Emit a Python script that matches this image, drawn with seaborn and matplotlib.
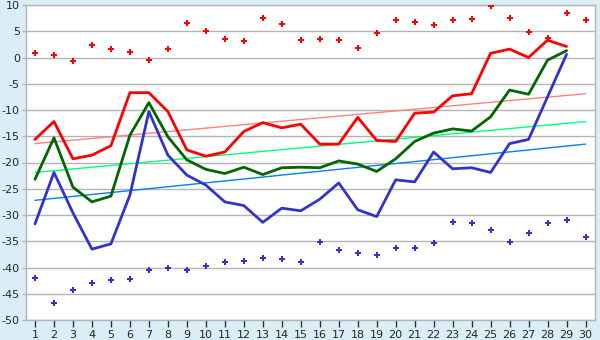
import numpy as np
import pandas as pd
import matplotlib
matplotlib.use("Agg")
import matplotlib.pyplot as plt
import seaborn as sns

days = list(range(1, 31))
line_days = list(range(1, 30))

red_line = [-15.6, -12.2, -19.3, -18.6, -16.8, -6.7, -6.7, -10.3, -17.6, -18.8,
            -18.0, -14.1, -12.4, -13.4, -12.7, -16.5, -16.5, -11.4, -15.8, -16.0,
            -10.6, -10.4, -7.3, -6.9, 0.8, 1.6, 0.0, 3.3, 2.1]
green_line = [-23.2, -15.3, -24.7, -27.5, -26.4, -14.8, -8.6, -15.1, -19.5, -21.3,
              -22.1, -20.9, -22.3, -21.0, -20.9, -21.0, -19.7, -20.3, -21.7, -19.3,
              -16.0, -14.4, -13.6, -14.0, -11.3, -6.2, -7.0, -0.5, 1.3]
blue_line = [-31.7, -21.9, -29.6, -36.5, -35.5, -26.2, -10.3, -18.6, -22.4, -24.3,
             -27.5, -28.2, -31.4, -28.7, -29.2, -27.0, -23.9, -29.0, -30.3, -23.3,
             -23.7, -18.0, -21.2, -21.0, -21.9, -16.4, -15.6, -7.5, 0.6]

red_points = [0.8, 0.4, -0.7, 2.3, 1.6, 1.0, -0.5, 1.6, 6.5, 5.0,
              3.5, 3.1, 7.5, 6.3, 3.3, 3.5, 3.3, 1.9, 4.6, 7.1,
              6.7, 6.1, 7.1, 7.3, 9.75, 7.5, 4.8, 3.7, 8.4, 7.1]
blue_points = [-42.0, -46.8, -44.2, -43.0, -42.4, -42.1, -40.5, -40.0, -40.5, -39.8,
               -39.0, -38.8, -38.1, -38.4, -39.0, -35.2, -36.7, -37.3, -37.7, -36.2,
               -36.2, -35.4, -31.4, -31.6, -32.9, -35.2, -33.5, -31.6, -31.0, -34.1]

# trend lines: value on day 1 and on day 30
trend_days = [1, 30]
red_trend = [-16.4, -6.9]
green_trend = [-21.9, -12.2]
blue_trend = [-27.2, -16.5]

y_ticks = list(range(-50, 11, 5))

sns.set_theme(style="white")
plt.rcParams["font.family"] = ["DejaVu Sans"]

fig = plt.figure(figsize=(6, 3.4), dpi=100)
fig.patch.set_facecolor("#d9eef6")
ax = fig.add_axes([25.5 / 600, 20 / 340, 569.5 / 600, 315 / 340])
ax.set_facecolor("white")

for y in y_ticks:
    ax.axhline(y, color="#b4b4b4", lw=1, zorder=0)

for series, col in [(red_trend, "#ff8080"), (green_trend, "#00ff80"), (blue_trend, "#0080ff")]:
    sns.lineplot(x=trend_days, y=series, color=col, lw=1, ax=ax, zorder=2)

for series, col in [(red_line, "#ff0000"), (green_line, "#006600"), (blue_line, "#3333cc")]:
    sns.lineplot(x=line_days, y=series, color=col, lw=2, ax=ax, zorder=3)

sns.scatterplot(x=days, y=red_points, color="#ff0000", marker="P", s=22,
                linewidth=0, ax=ax, zorder=4)
sns.scatterplot(x=days, y=blue_points, color="#3333cc", marker="P", s=22,
                linewidth=0, ax=ax, zorder=4)

ax.set_xlim(0.5, 30.5)
ax.set_ylim(-50, 10)
ax.set_xticks(days)
ax.set_yticks(y_ticks)
ax.set_xticklabels([str(d) for d in days])
ax.set_yticklabels([f"{v}" for v in y_ticks])
ax.tick_params(axis="x", length=5, width=1, color="#333333", labelsize=8, pad=2,
               bottom=True)
ax.tick_params(axis="y", length=3, width=1, color="#b4b4b4", labelsize=8, pad=1,
               left=True)
for s in ax.spines.values():
    s.set_color("#b4b4b4")
    s.set_linewidth(1)
ax.set_xlabel("")
ax.set_ylabel("")

fig.savefig("out.png", dpi=100, facecolor=fig.get_facecolor())
